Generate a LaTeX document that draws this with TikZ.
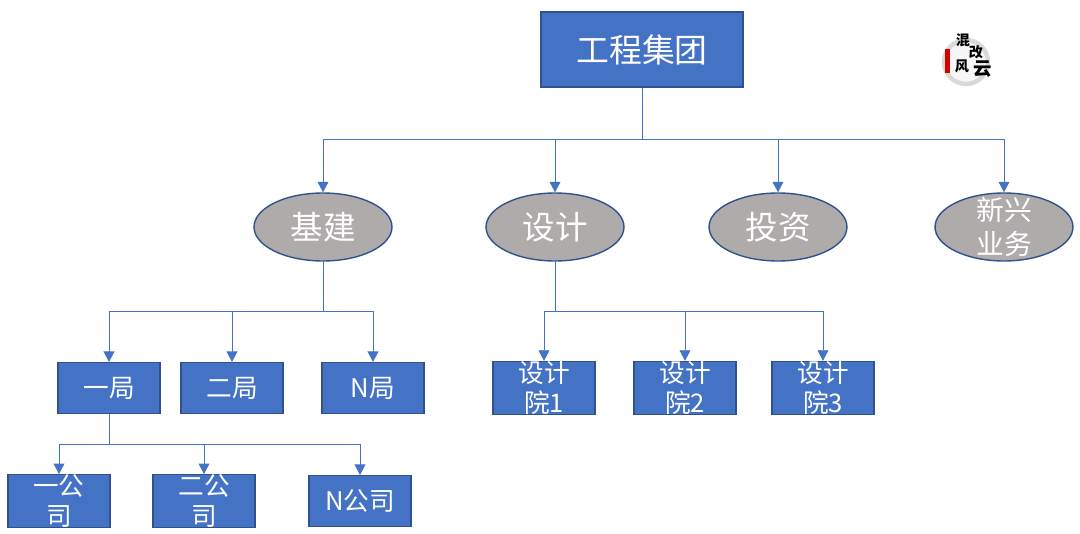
\documentclass[tikz,border=0pt]{standalone}
\usepackage{fontspec}
\setmainfont{Noto Sans CJK SC}
\usetikzlibrary{shapes.geometric, arrows.meta}
\definecolor{boxblue}{HTML}{4472C4}
\definecolor{boxedge}{HTML}{2F528F}
\definecolor{ovalgray}{HTML}{AFABAB}

\begin{document}
\begin{tikzpicture}[x=0.02cm, y=-0.02cm]
    % Styles for the boxes, ovals and lines
    \tikzstyle{box node}=[rectangle, draw=boxedge, line width=0.6pt, fill=boxblue, text=white, minimum width=2.04cm, minimum height=1.02cm, inner sep=0pt, align=center, font=\fontsize{14.6}{17}\selectfont]
    \tikzstyle{oval node}=[ellipse, draw=boxedge, line width=0.8pt, fill=ovalgray, text=white, minimum width=2.76cm, minimum height=1.36cm, inner sep=0pt, align=center, font=\fontsize{18.5}{20}\selectfont]
    \tikzstyle{link}=[draw=boxblue, line width=0.55pt, -{Triangle[width=6.2pt,length=6pt]}]
    \tikzstyle{logo char}=[inner sep=0pt, text=black, font=\bfseries\fontsize{8}{8}\selectfont]

    \useasboundingbox (0,0) rectangle (1080,534);

    % Draw the top box
    \node[box node, minimum width=4.04cm, minimum height=1.5cm, font=\fontsize{18.7}{20}\selectfont] (group) at (642,49.5) {工程集团};

    % Draw the ovals
    \node[oval node] (infra) at (323,227) {基建};
    \node[oval node] (design) at (555,227) {设计};
    \node[oval node] (invest) at (778,227) {投资};
    \node[oval node, label={[text=white, align=center, inner sep=0pt, font=\fontsize{15.8}{19.3}\selectfont]center:新兴\\业务}] (newbiz) at (1004,227) {};

    % Draw the second row
    \node[box node] (bureau1) at (109,388) {一局};
    \node[box node] (bureau2) at (232,388) {二局};
    \node[box node] (bureauN) at (373,388) {N局};
    \node[box node] (inst1) at (544,388) {设计\\院1};
    \node[box node] (inst2) at (685,388) {设计\\院2};
    \node[box node] (inst3) at (823,388) {设计\\院3};

    % Draw the third row
    \node[box node] (firm1) at (59,501) {一公\\司};
    \node[box node] (firm2) at (204,501) {二公\\司};
    \node[box node] (firmN) at (360,501) {N公司};

    % Draw the bus points
    \coordinate (groupbus) at (642,139);
    \coordinate (infrabus) at (323,311);
    \coordinate (designbus) at (555,311);
    \coordinate (firmbus) at (109,444);

    % Draw the arrows for the tree
    \foreach \to in {infra,design,invest,newbiz}
        \draw[link] (group.south) -- (groupbus) -| (\to.north);
    \foreach \to in {bureau1,bureau2,bureauN}
        \draw[link] (infra.south) -- (infrabus) -| (\to.north);
    \foreach \to in {inst1,inst2,inst3}
        \draw[link] (design.south) -- (designbus) -| (\to.north);
    \foreach \to in {firm1,firm2,firmN}
        \draw[link] (bureau1.south) -- (firmbus) -| (\to.north);

    % Draw the logo
    \node[circle, draw=gray!30, line width=2.5pt, fill=gray!6, minimum size=0.88cm, inner sep=0pt] (logo) at (966,62) {};
    \node[rectangle, fill=red!85!black, minimum width=0.1cm, minimum height=0.5cm, inner sep=0pt] (stamp) at (947,61) {};
    \node[logo char] (char1) at (963,40) {混};
    \node[logo char] (char2) at (976,52) {改};
    \node[logo char] (char3) at (962,66) {风};
    \node[logo char, font=\bfseries\fontsize{10.5}{10.5}\selectfont] (char4) at (983,69) {云};
\end{tikzpicture}
\end{document}
